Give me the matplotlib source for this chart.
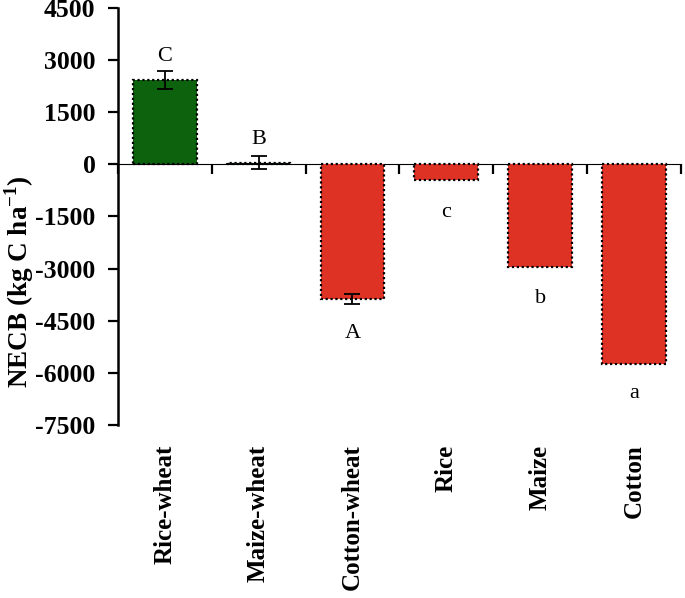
import matplotlib
matplotlib.use("Agg")
import matplotlib.pyplot as plt
import numpy as np

categories = ["Rice-wheat", "Maize-wheat", "Cotton-wheat", "Rice", "Maize", "Cotton"]
necb = [2420, 50, -3880, -460, -2950, -5740]
err = [250, 180, 150, 0, 0, 0]
letters = ["C", "B", "A", "c", "b", "a"]
letter_y = [3100, 700, -4850, -1400, -3850, -6600]
colors = ["#0d620d", "#0d620d", "#de3324", "#de3324", "#de3324", "#de3324"]
yticks = [4500, 3000, 1500, 0, -1500, -3000, -4500, -6000, -7500]

plt.rcParams['font.family'] = ['Liberation Serif', 'DejaVu Serif']
plt.rcParams['mathtext.fontset'] = 'custom'
plt.rcParams['mathtext.rm'] = 'Liberation Serif'
plt.rcParams['mathtext.bf'] = 'Liberation Serif:bold'

fig = plt.figure(figsize=(6.85, 5.98), dpi=100)
ax = fig.add_axes([0.172, 0.289, 0.822, 0.698])

x = np.arange(len(categories))
ax.bar(x, necb, width=0.68, color=colors, edgecolor="black", linestyle=(0, (1, 1.2)),
       linewidth=1.6, zorder=2)
for xi, v, e in zip(x, necb, err):
    if e > 0:
        ax.errorbar(xi, v, yerr=e, color="black", capsize=6, capthick=1.3,
                    elinewidth=1.3, zorder=3)
for xi, t, ly in zip(x, letters, letter_y):
    ax.text(xi, ly, t, ha="center", va="center", fontsize=16, zorder=4)

ax.set_xlim(-0.5, len(categories) - 0.5)
ax.set_ylim(-7500, 4500)
ax.set_yticks(yticks)
ax.set_yticklabels([str(v) for v in yticks], fontsize=18.5, fontweight="bold")
ax.tick_params(axis="y", direction="out", length=7, width=1.6, pad=9)
for s in ["top", "right", "bottom"]:
    ax.spines[s].set_visible(False)
ax.spines["left"].set_linewidth(1.8)

# category labels at the bottom
ax.set_xticks(x)
ax.set_xticklabels(categories, rotation=90, fontsize=18, fontweight="bold")
ax.tick_params(axis="x", length=0, pad=14)

# zero line with boundary ticks
zero_frac = (0 - (-7500)) / (4500 - (-7500))
sec = ax.secondary_xaxis(zero_frac)
sec.set_xticks(np.arange(len(categories) + 1) - 0.5)
sec.set_xticklabels([])
sec.tick_params(direction="in", length=7, width=1.6)
sec.spines["bottom"].set_linewidth(1.8)

ax.set_ylabel("NECB (kg C ha$^{\\mathbf{-1}}$)", fontsize=19.5, fontweight="bold")
ax.yaxis.set_label_coords(-0.146, 0.345)

fig.savefig("out.png", dpi=100)
